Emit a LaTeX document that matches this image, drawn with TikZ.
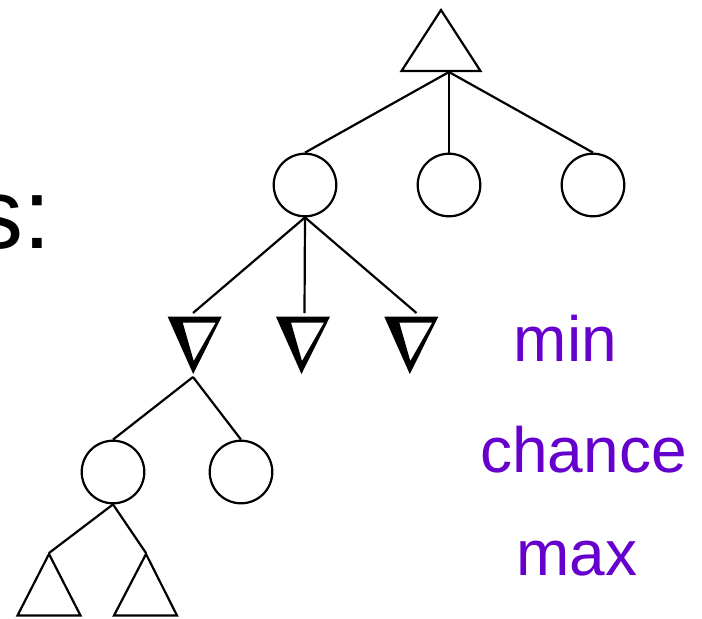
\documentclass[tikz,border=0pt]{standalone}
\usepackage{fontspec}
\setmainfont{Liberation Sans}
\definecolor{labelpurple}{HTML}{6600CC}

\tikzstyle {chance} = [draw, circle, line width=1.1pt, minimum size=31.3pt, inner sep=0pt]
\tikzstyle {edge} = [line width=1.1pt]
\tikzstyle {maxtri} = [line width=1.1pt, line join=miter]
\tikzstyle {lbl} = [text=labelpurple, inner sep=0pt, font=\fontsize{32}{38}\selectfont]

\begin{document}
\begin{tikzpicture}[x=0.5pt, y=-0.5pt]
            \useasboundingbox (0,0) rectangle (702,618);
            % cut-off title
            \node [anchor=base east, inner sep=0pt, font=\fontsize{50}{60}\selectfont] (title) at (52,248) {s:};
            % max at the root
            \draw [maxtri] (441,10) -- (480.5,71) -- (401.5,71) -- cycle;
            \coordinate (root) at (449,72);
            % chance
            \node [chance] (c1) at (305,185) {};
            \node [chance] (c2) at (449,185) {};
            \node [chance] (c3) at (593,185) {};
            \foreach \c in {c1, c2, c3}
                \draw [edge] (root) -- (\c.north);
            % min
            \foreach \x in {167.7, 276, 384.3}
                \fill [even odd rule] (\x,316.7) -- ++(54,0) -- ++(-28.5,57.3) -- cycle
                    (\x+15,322.5) -- (\x+48,322.5) -- (\x+26,361) -- cycle;
            \coordinate (m1) at (193,313);
            \coordinate (m2) at (304.5,313);
            \coordinate (m3) at (416.5,313);
            \coordinate (m1tip) at (193,377);
            \foreach \m in {m1, m2, m3}
                \draw [edge] (c1.south) -- (\m);
            % chance
            \node [chance] (ca) at (113,472) {};
            \node [chance] (cb) at (241,472) {};
            \draw [edge] (m1tip) -- (ca.north);
            \draw [edge] (m1tip) -- (cb.north);
            % max
            \draw [maxtri] (49,554) -- (80.5,615.5) -- (17.5,615.5) -- cycle;
            \draw [maxtri] (146,554) -- (177,615.5) -- (114,615.5) -- cycle;
            \coordinate (x1) at (49,553);
            \coordinate (x2) at (146,553);
            \draw [edge] (ca.south) -- (x1);
            \draw [edge] (ca.south) -- (x2);
            % labels
            \node [lbl, anchor=base west] (lmin) at (513.5,361.7) {min};
            \node [lbl, anchor=base west] (lchance) at (480,472.3) {chance};
            \node [lbl, anchor=base west] (lmax) at (516,575) {max};
        \end{tikzpicture}
\end{document}
